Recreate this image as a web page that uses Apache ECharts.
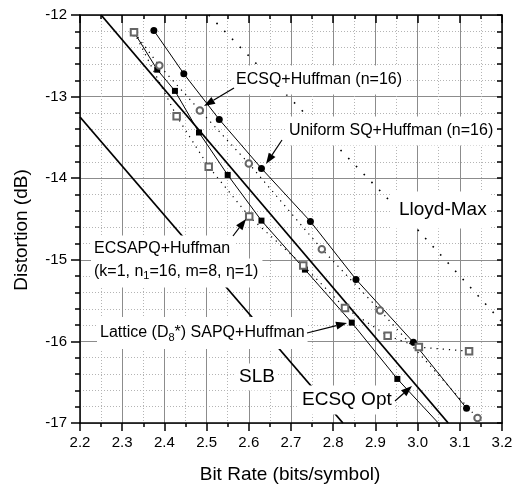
<!DOCTYPE html>
<html>
<head>
<meta charset="utf-8">
<script src="https://cdn.jsdelivr.net/npm/echarts@6/dist/echarts.min.js"></script>
<style>html,body{margin:0;padding:0;background:#fff}#c{width:519px;height:487px}</style>
</head>
<body>
<div id="c"></div>
<script>
// ---- data ----
const uniformRate = [2.375, 2.446, 2.530, 2.630, 2.746, 2.854, 2.990, 3.116];
const uniformDist = [-12.19, -12.72, -13.28, -13.88, -14.53, -15.24, -16.01, -16.82];
const ecsqRate = [2.328, 2.388, 2.484, 2.600, 2.773, 2.911, 3.142];
const ecsqDist = [-12.21, -12.62, -13.17, -13.82, -14.87, -15.62, -16.94];
const ecsapqRate = [2.328, 2.429, 2.505, 2.601, 2.729, 2.828, 2.929, 3.003, 3.122];
const ecsapqDist = [-12.21, -13.24, -13.86, -14.47, -15.07, -15.59, -15.93, -16.07, -16.12];
const latticeRate = [2.328, 2.383, 2.425, 2.482, 2.550, 2.630, 2.733, 2.844, 2.952, 3.085];
const latticeDist = [-12.21, -12.67, -12.93, -13.44, -13.96, -14.52, -15.12, -15.77, -16.46, -17.2];
const lloydRate = [2.505, 2.613, 2.709, 2.824, 2.998, 3.090, 3.182, 3.2];
const lloydDist = [-12.0, -12.57, -13.08, -13.69, -14.62, -15.14, -15.66, -15.76];
const slbRate = [2.2, 2.823];
const slbDist = [-13.25, -17];
const optRate = [2.25, 3.0725];
const optDist = [-12, -17];

const pairs = (a, b) => a.map((v, i) => [v, b[i]]);
const FONT = 'Liberation Sans, Arial, sans-serif';

const chart = echarts.init(document.getElementById('c'), null, {renderer: 'canvas'});

const gridRect = {left: 80, top: 15, width: 422, height: 408};

function arrow(x1, y1, x2, y2) {
  const L = 11, W = 4;
  const dx = x2 - x1, dy = y2 - y1, d = Math.hypot(dx, dy);
  const ux = dx / d, uy = dy / d;
  const bx = x2 - ux * L, by = y2 - uy * L;
  return [
    {type: 'line', z: 120, shape: {x1: x1, y1: y1, x2: bx, y2: by}, style: {stroke: '#000', lineWidth: 1.2}},
    {type: 'polygon', z: 120, shape: {points: [[x2, y2], [bx - uy * W, by + ux * W], [bx + uy * W, by - ux * W]]}, style: {fill: '#000'}}
  ];
}

function label(text, x, y, size, pad) {
  return {
    type: 'text', z: 110, x: x, y: y,
    style: {
      text: text, fill: '#000', font: size + 'px ' + FONT,
      verticalAlign: 'middle', align: 'left',
      backgroundColor: '#fff', padding: pad || [6, 3, 6, 3]
    }
  };
}

const subRich = {
  sub: {fontSize: 11, fontFamily: FONT, verticalAlign: 'bottom', padding: [10, 0, 0, 0], lineHeight: 20},
  n: {fontSize: 16, fontFamily: FONT, lineHeight: 20}
};

const graphics = [
  label('ECSQ+Huffman (n=16)', 233, 80, 16, [7, 3, 6, 3]),
  label('Uniform SQ+Huffman (n=16)', 286, 131, 16, [7, 3, 6, 3]),
  label('Lloyd-Max', 392, 210, 19, [10, 4, 8, 7]),
  label('ECSAPQ+Huffman', 91, 249, 16, [8, 4, 3, 3]),
  {
    type: 'text', z: 110, x: 91, y: 273,
    style: {
      text: '{n|(k=1, n}{sub|1}{n|=16, m=8, η=1)}',
      fill: '#000', font: '16px ' + FONT, verticalAlign: 'middle', align: 'left',
      backgroundColor: '#fff', padding: [3, 4, 6, 3], rich: subRich
    }
  },
  {
    type: 'text', z: 110, x: 97, y: 333,
    style: {
      text: '{n|Lattice (D}{sub|8}{n|*) SAPQ+Huffman}',
      fill: '#000', font: '16px ' + FONT, verticalAlign: 'middle', align: 'left',
      backgroundColor: '#fff', padding: [6, 3, 6, 3], rich: subRich
    }
  },
  label('SLB', 236, 377, 19, [4, 3, 4, 3]),
  label('ECSQ Opt', 299, 400, 19, [5, 3, 5, 3]),
  {type: 'text', z: 110, x: 290, y: 475, style: {text: 'Bit Rate (bits/symbol)', fill: '#000', font: '19px ' + FONT, align: 'center', verticalAlign: 'middle'}},
  {type: 'text', z: 110, x: 22, y: 230, rotation: Math.PI / 2, style: {text: 'Distortion (dB)', fill: '#000', font: '19px ' + FONT, align: 'center', verticalAlign: 'middle'}}
].concat(
  arrow(234, 88, 204, 106),
  arrow(282, 140, 266, 164),
  arrow(233, 236, 246, 219),
  arrow(307, 333, 347, 323),
  arrow(395, 401, 412, 386)
);

const axisFont = {fontFamily: FONT, fontSize: 15, color: '#000'};

const option = {
  animation: false,
  backgroundColor: '#fff',
  grid: Object.assign({}, gridRect),
  xAxis: [
    {
      type: 'value', min: 2.2, max: 3.2, interval: 0.1, position: 'bottom',
      axisLine: {show: true, lineStyle: {color: '#000', width: 1.5}},
      axisTick: {show: true, inside: false, length: 8, lineStyle: {color: '#000', width: 1.5}},
      minorTick: {show: true, splitNumber: 2, length: 4, lineStyle: {color: '#000', width: 1.5}},
      axisLabel: Object.assign({margin: 12, formatter: v => v.toFixed(1)}, axisFont),
      splitLine: {show: true, lineStyle: {color: '#8c8c8c', width: 1}},
      minorSplitLine: {show: true, lineStyle: {color: '#b4b4b4', width: 1, type: [1, 2]}}
    },
    {
      type: 'value', min: 2.2, max: 3.2, interval: 0.1, position: 'top',
      axisLine: {show: true, onZero: false, lineStyle: {color: '#000', width: 1.5}},
      axisTick: {show: true, inside: true, length: 8, lineStyle: {color: '#000', width: 1.5}},
      minorTick: {show: true, splitNumber: 2, length: 4, lineStyle: {color: '#000', width: 1.5}},
      axisLabel: {show: false}, splitLine: {show: false}
    }
  ],
  yAxis: [
    {
      type: 'value', min: -17, max: -12, interval: 1, position: 'left',
      axisLine: {show: true, onZero: false, lineStyle: {color: '#000', width: 1.5}},
      axisTick: {show: true, inside: false, length: 9, lineStyle: {color: '#000', width: 1.5}},
      minorTick: {show: true, splitNumber: 5, length: 5, lineStyle: {color: '#000', width: 1.5}},
      axisLabel: Object.assign({margin: 13}, axisFont),
      splitLine: {show: true, lineStyle: {color: '#8c8c8c', width: 1}},
      minorSplitLine: {show: true, lineStyle: {color: '#b4b4b4', width: 1, type: [1, 2]}}
    },
    {
      type: 'value', min: -17, max: -12, interval: 1, position: 'right',
      axisLine: {show: true, onZero: false, lineStyle: {color: '#000', width: 1.5}},
      axisTick: {show: true, inside: true, length: 5, lineStyle: {color: '#000', width: 1.5}},
      minorTick: {show: true, splitNumber: 5, length: 5, lineStyle: {color: '#000', width: 1.5}},
      axisLabel: {show: false}, splitLine: {show: false}
    }
  ],
  series: [
    {
      name: 'Lloyd-Max', type: 'line', data: pairs(lloydRate, lloydDist), clip: true,
      showSymbol: false, symbol: 'none', lineStyle: {color: '#000', width: 1.6, type: [1.6, 9.5]}, z: 3
    },
    {
      name: 'SLB', type: 'line', data: pairs(slbRate, slbDist), clip: true,
      symbol: 'none', lineStyle: {color: '#000', width: 1.8}, z: 3
    },
    {
      name: 'ECSQ Opt', type: 'line', data: pairs(optRate, optDist), clip: true,
      symbol: 'none', lineStyle: {color: '#000', width: 1.8}, z: 3
    },
    {
      name: 'Uniform SQ+Huffman', type: 'line', data: pairs(uniformRate, uniformDist), clip: true,
      symbol: 'circle', symbolSize: 7, itemStyle: {color: '#000'}, lineStyle: {color: '#000', width: 1}, z: 4
    },
    {
      name: 'Lattice SAPQ+Huffman', type: 'line', data: pairs(latticeRate, latticeDist), clip: true,
      symbol: 'rect', symbolSize: 6, itemStyle: {color: '#000'}, lineStyle: {color: '#000', width: 1}, z: 4
    },
    {
      name: 'ECSQ+Huffman', type: 'line', data: pairs(ecsqRate, ecsqDist), clip: true,
      symbol: 'emptyCircle', symbolSize: 6.5, itemStyle: {color: '#666', borderWidth: 0.8},
      lineStyle: {color: '#000', width: 1.2, type: [1.2, 5]}, z: 5
    },
    {
      name: 'ECSAPQ+Huffman', type: 'line', data: pairs(ecsapqRate, ecsapqDist), clip: true,
      symbol: 'emptyRect', symbolSize: 6.5, itemStyle: {color: '#666', borderWidth: 0.8},
      lineStyle: {color: '#000', width: 1.2, type: [1.2, 5]}, z: 6
    }
  ],
  graphic: graphics
};

chart.setOption(option);
</script>
</body>
</html>
